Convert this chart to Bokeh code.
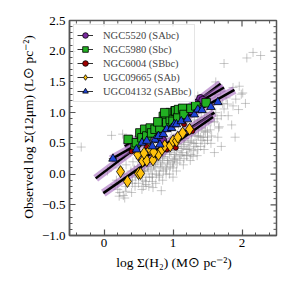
import math
from bokeh.plotting import figure
from bokeh.models import FixedTicker, Legend, LegendItem, CustomJSTickFormatter
from bokeh.embed import file_html
from bokeh.resources import INLINE

FONT = "Liberation Serif"

labels = ["NGC5520 (SAbc)", "NGC5980 (Sbc)", "NGC6004 (SBbc)",
          "UGC09665 (SAb)", "UGC04132 (SABbc)"]

# tick positions
x_major = [0, 1, 2]
x_minor = [-0.4, -0.2, 0.2, 0.4, 0.6, 0.8, 1.2, 1.4, 1.6, 1.8, 2.2, 2.4]
y_major = [-1.0, -0.5, 0.0, 0.5, 1.0, 1.5, 2.0, 2.5]
y_minor = [-0.9, -0.8, -0.7, -0.6, -0.4, -0.3, -0.2, -0.1, 0.1, 0.2, 0.3, 0.4,
           0.6, 0.7, 0.8, 0.9, 1.1, 1.2, 1.3, 1.4, 1.6, 1.7, 1.8, 1.9, 2.1, 2.2,
           2.3, 2.4]
x_lo, x_hi = -0.5, 2.5
y_lo, y_hi = -1.0, 2.5

# background sample (gray crosses)
bg_x = [2.16, 2.27, 2.07, 1.74, 1.96, 2.01, 1.87, 1.79, 1.87, 1.91, 1.67, 1.74,
        1.29, 1.00, 0.83, -0.33, 0.11, 0.23, 0.30, 0.16, 1.99, 1.77, 0.46, 0.27,
        1.36, 1.62, 0.05, 0.61, 0.71, 1.02, 0.22, 0.32, 1.50, 1.20,
        0.20, 0.18, 0.22, 0.21,
        0.31, 0.29, 0.32, 0.30, 0.28,
        0.41, 0.39, 0.42, 0.38, 0.40,
        0.50, 0.52, 0.49, 0.51, 0.48, 0.53,
        0.61, 0.59, 0.62, 0.58, 0.60, 0.63, 0.57,
        0.70, 0.72, 0.69, 0.71, 0.68, 0.73, 0.70,
        0.80, 0.82, 0.79, 0.81, 0.78, 0.83, 0.80,
        0.90, 0.92, 0.89, 0.91, 0.88, 0.93, 0.90,
        1.00, 1.02, 0.99, 1.01, 0.98, 1.03, 1.00,
        1.10, 1.12, 1.09, 1.11, 1.08, 1.13,
        1.20, 1.22, 1.19, 1.21, 1.18, 1.23,
        1.30, 1.32, 1.29, 1.31, 1.28, 1.33,
        1.40, 1.42, 1.39, 1.41, 1.38,
        1.50, 1.52, 1.49, 1.51, 1.48,
        1.60, 1.62, 1.59, 1.61,
        1.70, 1.72, 1.69,
        0.65, 0.75, 0.85, 0.95, 0.55, 0.45, 1.05, 1.15,
        0.40, 0.41,
        0.45, 0.46, 0.44,
        0.55, 0.56, 0.54, 0.55,
        0.65, 0.66, 0.64, 0.65, 0.67,
        0.75, 0.76, 0.74, 0.75, 0.77,
        0.85, 0.86, 0.84, 0.85, 0.87,
        0.95, 0.96, 0.94, 0.95, 0.97,
        1.05, 1.06, 1.04, 1.05, 1.07,
        1.15, 1.16, 1.14, 1.15, 1.17,
        1.25, 1.26, 1.24, 1.25, 1.27,
        1.35, 1.36, 1.34, 1.35, 1.37,
        1.45, 1.46, 1.44, 1.45, 1.47,
        1.55, 1.56, 1.54, 1.55,
        1.65, 1.66, 1.64,
        1.80, 1.85, 1.95, 2.05, 1.70, 1.60, 1.90,
        0.52, 0.58, 0.63, 0.68, 0.72, 0.78, 0.82, 0.87, 0.92, 0.97,
        1.02, 1.07, 1.12, 1.17, 1.22, 1.27, 1.32, 1.37, 1.42, 1.47,
        0.60, 0.70, 0.80, 0.90, 1.00, 1.10, 1.20, 1.30, 1.40, 1.50,
        0.66, 0.76, 0.86, 0.96, 1.06, 1.16, 1.26, 1.36, 1.46, 1.56]
bg_y = [1.98, 1.93, 1.89, 1.80, 1.43, 1.32, 1.41, 1.14, 1.11, 1.22, 0.77, 1.06,
        0.29, -0.05, -0.27, 0.44, 0.63, -0.30, -0.39, -0.17, 1.30, 1.24, 0.62, 0.65,
        1.27, 1.50, 0.05, -0.17, -0.22, 0.24, -0.36, -0.28, 0.60, 0.30,
        -0.25, -0.10, 0.10, 0.25,
        -0.20, 0.00, 0.15, 0.30, -0.35,
        -0.10, 0.05, 0.20, 0.35, 0.50,
        -0.15, 0.00, 0.12, 0.25, 0.40, 0.55,
        -0.05, 0.08, 0.20, 0.30, 0.45, 0.60, -0.20,
        0.00, 0.12, 0.25, 0.35, 0.50, 0.65, -0.12,
        0.05, 0.18, 0.30, 0.42, 0.55, 0.70, -0.05,
        0.10, 0.22, 0.35, 0.48, 0.60, 0.75, 0.00,
        0.20, 0.32, 0.45, 0.58, 0.70, 0.85, 0.10,
        0.30, 0.42, 0.55, 0.68, 0.80, 0.95,
        0.40, 0.52, 0.65, 0.78, 0.90, 1.05,
        0.50, 0.62, 0.75, 0.88, 1.00, 1.12,
        0.60, 0.75, 0.88, 1.00, 1.15,
        0.70, 0.85, 1.00, 1.12, 1.25,
        0.85, 1.00, 1.15, 1.30,
        0.95, 1.15, 1.35,
        0.15, 0.22, 0.28, 0.38, 0.05, -0.02, 0.45, 0.55,
        -0.30, -0.15,
        -0.20, -0.05, 0.08,
        -0.25, -0.10, 0.05, 0.15,
        -0.20, -0.05, 0.05, 0.18, 0.28,
        -0.15, 0.00, 0.10, 0.20, 0.32,
        -0.10, 0.05, 0.15, 0.25, 0.38,
        0.00, 0.12, 0.22, 0.32, 0.45,
        0.05, 0.18, 0.28, 0.38, 0.50,
        0.15, 0.25, 0.35, 0.45, 0.58,
        0.22, 0.32, 0.42, 0.52, 0.65,
        0.30, 0.40, 0.50, 0.62, 0.72,
        0.40, 0.50, 0.60, 0.70, 0.82,
        0.50, 0.62, 0.72, 0.85,
        0.60, 0.75, 0.90,
        0.95, 0.80, 1.05, 1.15, 0.45, 0.35, 0.60,
        -0.02, 0.05, 0.12, 0.08, 0.15, 0.22, 0.12, 0.28, 0.18, 0.35,
        0.25, 0.42, 0.32, 0.48, 0.40, 0.55, 0.45, 0.62, 0.55, 0.68,
        -0.12, -0.05, -0.02, 0.08, 0.15, 0.22, 0.30, 0.38, 0.45, 0.55,
        0.35, 0.42, 0.50, 0.58, 0.65, 0.72, 0.80, 0.85, 0.92, 0.98]

# galaxies
n5520_x = [0.49, 0.63, 0.75, 0.85, 1.00, 1.19, 1.26, 1.36, 1.40, 1.43, 0.95, 1.10]
n5520_y = [0.50, 0.62, 0.70, 0.55, 0.85, 1.04, 1.03, 1.16, 1.23, 1.20, 0.80, 0.95]
n5520_xerr = [0.015] * len(n5520_x)

n5980_x = [0.35, 0.45, 0.47, 0.52, 0.55, 0.59, 0.62, 0.67, 0.69, 0.74, 0.81, 0.86,
           0.91, 0.96, 0.96, 1.00, 1.03, 1.04, 1.07, 1.08, 1.14, 1.16, 1.26, 1.33,
           1.48, 0.78, 0.88]
n5980_y = [0.565, 0.43, 0.51, 0.67, 0.59, 0.73, 0.62, 0.75, 0.67, 0.73, 0.75, 0.94,
           0.84, 1.00, 0.89, 0.86, 1.03, 1.03, 0.92, 1.05, 1.07, 0.97, 1.07, 1.11,
           1.16, 0.85, 1.00]
n5980_xerr = [0.015] * len(n5980_x)

n6004_x = [0.40, 0.62, 0.75, 0.91, 1.04, 1.16, 1.28]
n6004_y = [0.37, 0.45, 0.55, 0.40, 0.43, 0.81, 0.70]
n6004_xerr = [0.015] * len(n6004_x)

u9665_x = [0.24, 0.34, 0.50, 0.53, 0.49, 0.56, 0.62, 0.71, 0.58, 0.67, 0.79, 0.84,
           0.88, 0.96, 1.00, 1.05, 1.07, 1.14, 1.24, 0.72]
u9665_y = [0.04, -0.12, 0.01, 0.01, 0.32, 0.21, 0.22, 0.23, 0.34, 0.40, 0.32, 0.40,
           0.46, 0.46, 0.54, 0.54, 0.60, 0.67, 0.73, 0.36]
u9665_xerr = [0.015] * len(u9665_x)

u4132_x = [0.13, 0.47, 0.55, 0.62, 0.74, 0.79, 0.86, 0.91, 0.98, 1.02, 1.05, 1.12,
           1.21, 1.31, 1.36, 1.42, 1.55, 1.65, 0.81, 0.70]
u4132_y = [0.25, 0.40, 0.51, 0.54, 0.56, 0.62, 0.65, 0.73, 0.75, 0.81, 0.81, 0.86,
           0.89, 0.97, 1.05, 1.04, 1.09, 1.17, 0.48, 0.45]
u4132_xerr = [0.06] + [0.015] * 19

# fitted relations (end points) per galaxy
fit_x = [[-0.12, 1.69], [0.30, 1.74], [0.50, 1.60], [-0.01, 1.58], [0.10, 1.89]]
fit_y = [[-0.07, 1.47], [0.45, 1.41], [0.20, 1.00], [-0.31, 0.93], [0.24, 1.37]]

colors = ["#7a2a9e", "#22b022", "#a00000", "#ffc20e", "#1f45d6"]
markers = ["circle", "square", "circle", "diamond", "triangle"]
sizes = [8, 8.5, 5, 12, 8.5]

p = figure(width=283, height=283, x_range=(x_lo, x_hi), y_range=(y_lo, y_hi),
           output_backend="svg", toolbar_location=None,
           min_border_left=69, min_border_right=7, min_border_top=20,
           min_border_bottom=48)
p.grid.visible = False
p.outline_line_color = "#555555"
p.outline_line_width = 1.5

fmt = CustomJSTickFormatter(code="return tick.toFixed(1).replace('-', '\u2212')")

for ax in (p.xaxis[0], p.yaxis[0]):
    ax.major_tick_in = 6
    ax.major_tick_out = 0
    ax.minor_tick_in = 3
    ax.minor_tick_out = 0
    ax.axis_line_color = "#555555"
    ax.axis_line_width = 1.5
    ax.major_tick_line_color = "#555555"
    ax.minor_tick_line_color = "#555555"
    ax.major_tick_line_width = 1.2
    ax.major_label_text_font = FONT
    ax.major_label_text_font_size = "13px"
    ax.major_label_text_color = "black"
    ax.axis_label_text_font = FONT
    ax.axis_label_text_font_size = "13.5px"
    ax.axis_label_text_font_style = "normal"
    ax.axis_label_text_color = "black"

p.xaxis.ticker = FixedTicker(ticks=x_major, minor_ticks=x_minor)
p.yaxis.ticker = FixedTicker(ticks=y_major, minor_ticks=y_minor)
p.yaxis.formatter = fmt
p.xaxis.axis_label = "log \u03a3(H\u2082) (M\u2299 pc\u207b\u00b2)"
p.yaxis.axis_label = "Observed log \u03a3(12\u03bcm) (L\u2299 pc\u207b\u00b2)"
p.xaxis.major_label_standoff = 3
p.yaxis.major_label_standoff = 4
p.xaxis.axis_label_standoff = 5
p.yaxis.axis_label_standoff = 3

# mirrored ticks on top and right edges
tick_kw = dict(line_color="#555555", length_units="screen")
p.ray(x=x_major, y=[y_hi] * len(x_major), length=6, angle=-math.pi / 2,
      line_width=1.2, **tick_kw)
p.ray(x=x_minor, y=[y_hi] * len(x_minor), length=3, angle=-math.pi / 2,
      line_width=1, **tick_kw)
p.ray(x=[x_hi] * len(y_major), y=y_major, length=6, angle=math.pi,
      line_width=1.2, **tick_kw)
p.ray(x=[x_hi] * len(y_minor), y=y_minor, length=3, angle=math.pi,
      line_width=1, **tick_kw)

p.scatter(bg_x, bg_y, marker="cross", size=9, line_color="#888888",
          line_alpha=0.45, line_width=1)

for fx, fy in zip(fit_x, fit_y):
    p.line(fx, fy, line_width=8, line_color="#9b59b6", line_alpha=0.55)
    p.line(fx, fy, line_width=2.5, line_color="black")

data = [(n5520_x, n5520_y, n5520_xerr), (n5980_x, n5980_y, n5980_xerr),
        (n6004_x, n6004_y, n6004_xerr), (u9665_x, u9665_y, u9665_xerr),
        (u4132_x, u4132_y, u4132_xerr)]
items = []
for (xs, ys, es), c, m, s, lab in zip(data, colors, markers, sizes, labels):
    e = p.segment([x - d for x, d in zip(xs, es)], ys,
                  [x + d for x, d in zip(xs, es)], ys,
                  line_color="#333333", line_width=1)
    r = p.scatter(xs, ys, marker=m, size=s, fill_color=c, line_color="black",
                  line_width=0.8)
    items.append(LegendItem(label=lab, renderers=[e, r]))

leg = Legend(items=items, location="top_left")
leg.label_text_font = FONT
leg.label_text_font_size = "10.5px"
leg.border_line_color = "#cccccc"
leg.border_line_width = 1.2
leg.background_fill_alpha = 0.85
leg.margin = 4
leg.padding = 3
leg.spacing = 0
leg.label_height = 14
leg.glyph_height = 14
leg.glyph_width = 16
leg.label_standoff = 10
p.add_layout(leg)

open("out.html", "w").write(file_html(p, INLINE))
